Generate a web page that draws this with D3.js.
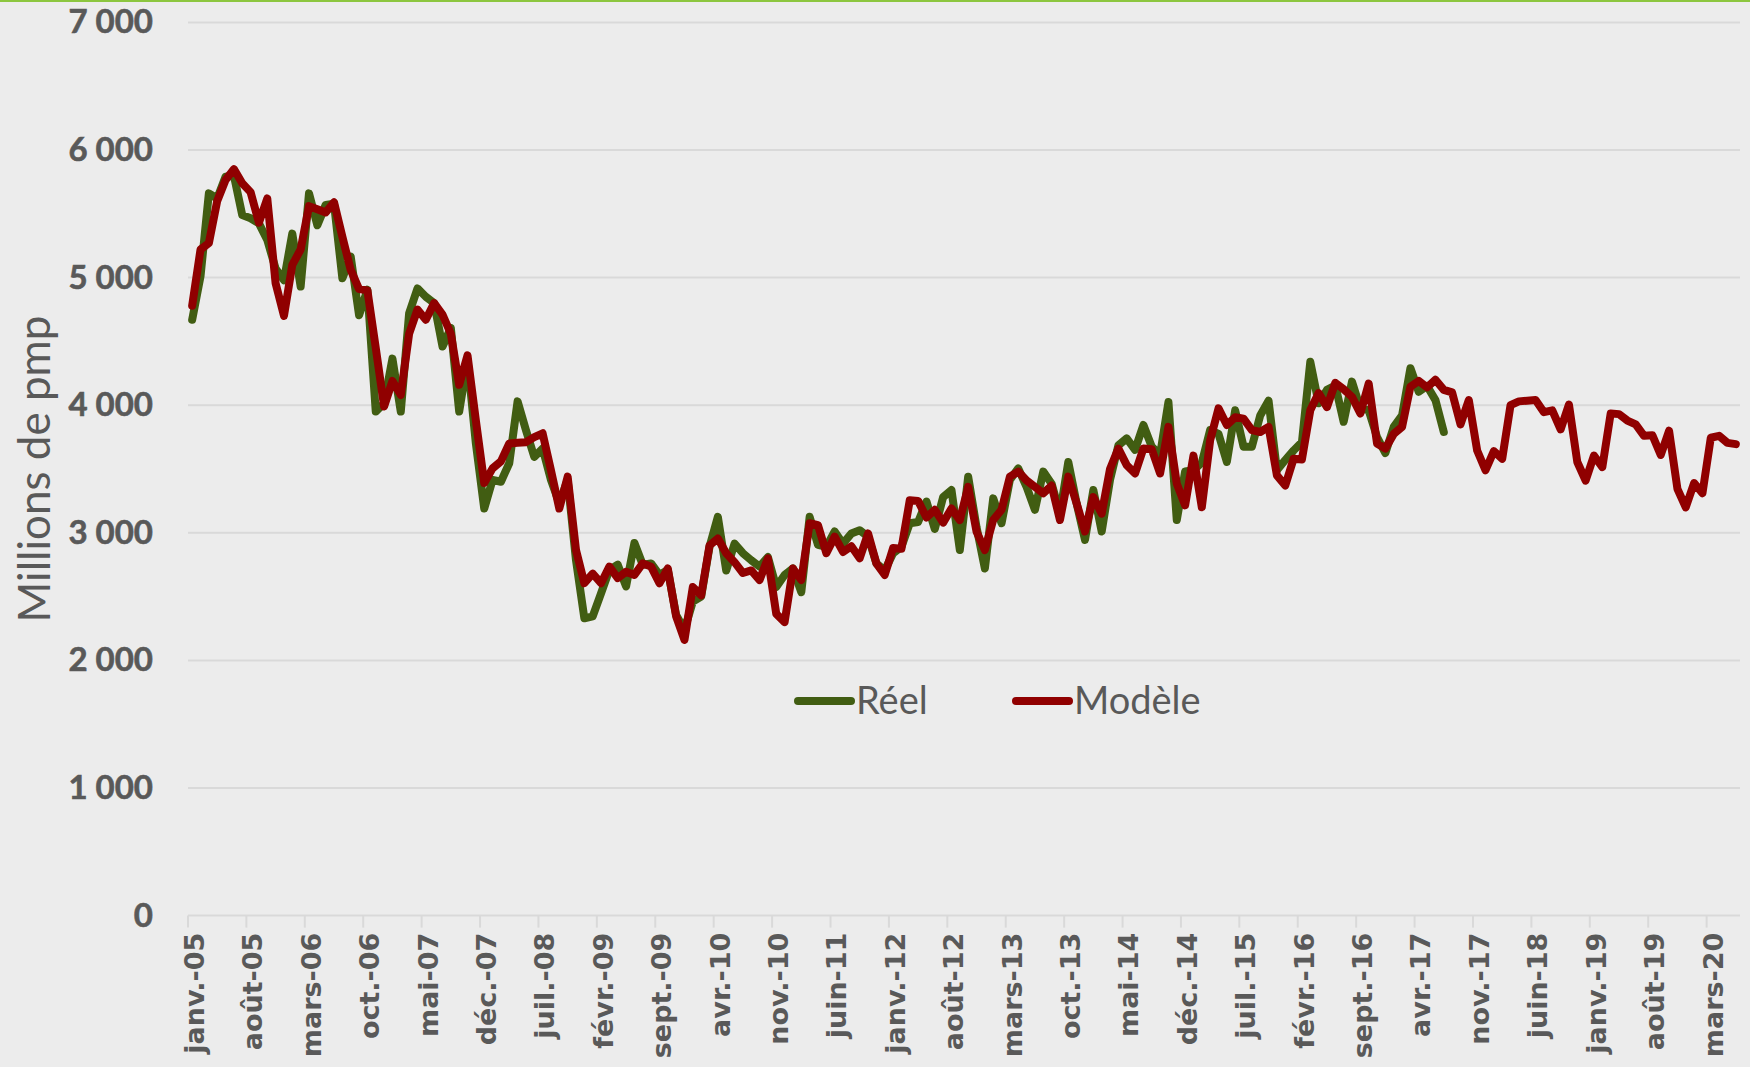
<!DOCTYPE html>
<html>
<head>
<meta charset="utf-8">
<script src="https://cdnjs.cloudflare.com/ajax/libs/d3/7.8.5/d3.min.js"></script>
<style>
  html, body { margin: 0; padding: 0; background: #ececec; }
  svg { display: block; }
</style>
</head>
<body>
<div id="chart"></div>
<script>
// categories: monthly, janv. 2005 -> juin 2020
var monthNames = ["janv.", "févr.", "mars", "avr.", "mai", "juin", "juil.", "août", "sept.", "oct.", "nov.", "déc."];
var startYear = 2005, monthCount = 186, tickEvery = 7;

var seriesNames = ["Réel", "Modèle"];
var yTicks = [0, 1000, 2000, 3000, 4000, 5000, 6000, 7000];

// Réel (janv.-05 -> juil.-17)
var reel = [4670, 5010, 5660, 5620, 5790, 5800, 5490, 5465, 5425, 5295,
  5070, 4980, 5345, 4930, 5660, 5410, 5570, 5580, 4995, 5165,
  4705, 4905, 3950, 4015, 4365, 3950, 4720, 4915, 4850, 4800,
  4460, 4605, 3950, 4355, 3700, 3190, 3415, 3400, 3545, 4030,
  3805, 3595, 3660, 3415, 3230, 3415, 2785, 2330, 2345, 2525,
  2710, 2750, 2580, 2920, 2750, 2760, 2670, 2710, 2355, 2240,
  2460, 2500, 2890, 3125, 2705, 2915, 2840, 2785, 2735, 2810,
  2575, 2670, 2720, 2535, 3125, 2905, 2890, 3010, 2915, 2995,
  3020, 2970, 2760, 2705, 2840, 2890, 3075, 3085, 3245, 3030,
  3280, 3335, 2865, 3440, 3045, 2720, 3270, 3075, 3415, 3505,
  3360, 3180, 3480, 3385, 3150, 3555, 3230, 2945, 3335, 3010,
  3415, 3685, 3740, 3650, 3845, 3675, 3610, 4025, 3100, 3480,
  3490, 3550, 3805, 3775, 3555, 3960, 3675, 3675, 3920, 4035,
  3490, 3570, 3645, 3710, 4340, 4015, 4120, 4155, 3870, 4185,
  3975, 3960, 3750, 3625, 3830, 3920, 4290, 4105, 4150, 4040,
  3790];

// Modèle (janv.-05 -> juin-20)
var modele = [4780, 5220, 5270, 5600, 5765, 5850, 5740, 5670, 5430, 5620,
  4955, 4700, 5100, 5220, 5560, 5535, 5510, 5590, 5320, 5060,
  4910, 4900, 4450, 3990, 4190, 4080, 4560, 4750, 4670, 4800,
  4710, 4560, 4160, 4390, 3880, 3390, 3505, 3560, 3700, 3705,
  3710, 3750, 3780, 3490, 3190, 3440, 2865, 2605, 2680, 2605,
  2735, 2645, 2695, 2670, 2760, 2735, 2605, 2720, 2345, 2160,
  2575, 2510, 2900, 2955, 2840, 2770, 2685, 2705, 2630, 2800,
  2365, 2300, 2720, 2630, 3075, 3060, 2840, 2970, 2850, 2895,
  2800, 2995, 2760, 2670, 2880, 2875, 3255, 3250, 3120, 3180,
  3080, 3190, 3100, 3360, 3010, 2865, 3100, 3180, 3440, 3480,
  3410, 3360, 3310, 3370, 3100, 3440, 3230, 3010, 3280, 3150,
  3500, 3660, 3530, 3465, 3660, 3655, 3465, 3830, 3385, 3215,
  3605, 3200, 3725, 3975, 3845, 3905, 3895, 3805, 3790, 3830,
  3450, 3370, 3580, 3575, 3960, 4095, 3985, 4175, 4125, 4065,
  3935, 4170, 3700, 3660, 3775, 3830, 4145, 4190, 4140, 4200,
  4120, 4100, 3850, 4040, 3645, 3490, 3640, 3580, 4000, 4030,
  4035, 4040, 3945, 3960, 3810, 4005, 3555, 3410, 3605, 3515,
  3935, 3930, 3880, 3850, 3760, 3765, 3610, 3800, 3345, 3200,
  3390, 3310, 3745, 3760, 3705, 3695];

var width = 1750, height = 1067;
var margin = {top: 22.4, right: 10, bottom: 151.4, left: 188};
var colors = {"Réel": "#415d12", "Modèle": "#900000"};
var gridColor = "#d9d9d9", textColor = "#595959";

var svg, xScale, yScale, months;

function buildMonths () {
  var list = [];
  for (var i = 0; i < monthCount; i++) {
    var yy = startYear + Math.floor(i / 12);
    list.push(monthNames[i % 12] + "-" + String(yy).slice(2));
  }
  return list;
}

function init () {
  months = buildMonths();
  var fr = d3.formatLocale({decimal: ",", thousands: "\u00a0", grouping: [3], currency: ["", " €"]});
  var fmt = fr.format(",d");

  svg = d3.select("#chart").append("svg")
    .attr("width", width)
    .attr("height", height);

  svg.append("rect")
    .attr("width", width).attr("height", height)
    .attr("fill", "#ececec");

  // thin green rule at the very top
  svg.append("rect")
    .attr("x", 0).attr("y", 0)
    .attr("width", width).attr("height", 2)
    .attr("fill", "#8cc63f");

  xScale = d3.scaleBand()
    .domain(months)
    .range([margin.left, width - margin.right]);

  yScale = d3.scaleLinear()
    .domain([0, 7000])
    .range([height - margin.bottom, margin.top]);

  // gridlines
  svg.append("g").attr("class", "grid")
    .selectAll("line")
    .data(yTicks)
    .enter().append("line")
    .attr("x1", margin.left)
    .attr("x2", width - margin.right)
    .attr("y1", function (d) { return yScale(d); })
    .attr("y2", function (d) { return yScale(d); })
    .attr("stroke", gridColor)
    .attr("stroke-width", 2);

  // y axis labels
  var yAxis = d3.axisLeft(yScale)
    .tickValues(yTicks)
    .tickSize(0)
    .tickPadding(0)
    .tickFormat(fmt);
  var yg = svg.append("g")
    .attr("class", "y axis")
    .attr("transform", "translate(153,0)")
    .call(yAxis);
  yg.select(".domain").remove();
  yg.selectAll("text")
    .attr("fill", textColor)
    .attr("stroke", textColor)
    .attr("stroke-width", 0.6)
    .style("font-family", "Lato, 'Open Sans', sans-serif")
    .style("font-weight", "bold")
    .style("font-size", "33px");

  // x axis: ticks every 7 months at category boundaries
  var tickMonths = months.filter(function (d, i) { return i % tickEvery === 0; });
  var xg = svg.append("g").attr("class", "x axis");
  xg.selectAll("line.tick")
    .data(tickMonths)
    .enter().append("line")
    .attr("class", "tick")
    .attr("x1", function (d) { return xScale(d); })
    .attr("x2", function (d) { return xScale(d); })
    .attr("y1", yScale(0))
    .attr("y2", yScale(0) + 12)
    .attr("stroke", gridColor)
    .attr("stroke-width", 2);

  xg.selectAll("text")
    .data(tickMonths)
    .enter().append("text")
    .attr("transform", function (d) {
      return "translate(" + (xScale(d) + xScale.bandwidth() / 2 + 2) + "," + (yScale(0) + 17) + ") rotate(-90)";
    })
    .attr("text-anchor", "end")
    .attr("dy", "0.36em")
    .attr("fill", textColor)
    .style("font-family", "'DejaVu Sans', sans-serif")
    .style("font-weight", "bold")
    .style("font-size", "27px")
    .text(function (d) { return d; });

  // y axis title
  svg.append("text")
    .attr("transform", "translate(35,469) rotate(-90)")
    .attr("text-anchor", "middle")
    .attr("dy", "0.35em")
    .attr("fill", textColor)
    .style("font-family", "Lato, 'Open Sans', sans-serif")
    .style("font-size", "44px")
    .text("Millions de pmp");

  // lines
  var line = d3.line()
    .x(function (d, i) { return xScale(months[i]) + xScale.bandwidth() / 2; })
    .y(function (d) { return yScale(d); });

  var series = [{name: "Réel", values: reel}, {name: "Modèle", values: modele}];
  svg.append("g").attr("class", "lines")
    .selectAll("path")
    .data(series)
    .enter().append("path")
    .attr("d", function (d) { return line(d.values); })
    .attr("fill", "none")
    .attr("stroke", function (d) { return colors[d.name]; })
    .attr("stroke-width", 8)
    .attr("stroke-linejoin", "round")
    .attr("stroke-linecap", "round");

  // legend
  var legendX = [798, 1016];
  var legend = svg.append("g").attr("class", "legend")
    .selectAll("g")
    .data(seriesNames)
    .enter().append("g")
    .attr("transform", function (d, i) { return "translate(" + legendX[i] + ",701)"; });
  legend.append("line")
    .attr("x1", 0).attr("x2", 53)
    .attr("y1", 0).attr("y2", 0)
    .attr("stroke", function (d) { return colors[d]; })
    .attr("stroke-width", 8)
    .attr("stroke-linecap", "round");
  legend.append("text")
    .attr("x", 58)
    .attr("y", 13)
    .attr("fill", textColor)
    .style("font-family", "Lato, 'Open Sans', sans-serif")
    .style("font-size", "38px")
    .text(function (d) { return d; });
}

init();
</script>
</body>
</html>
